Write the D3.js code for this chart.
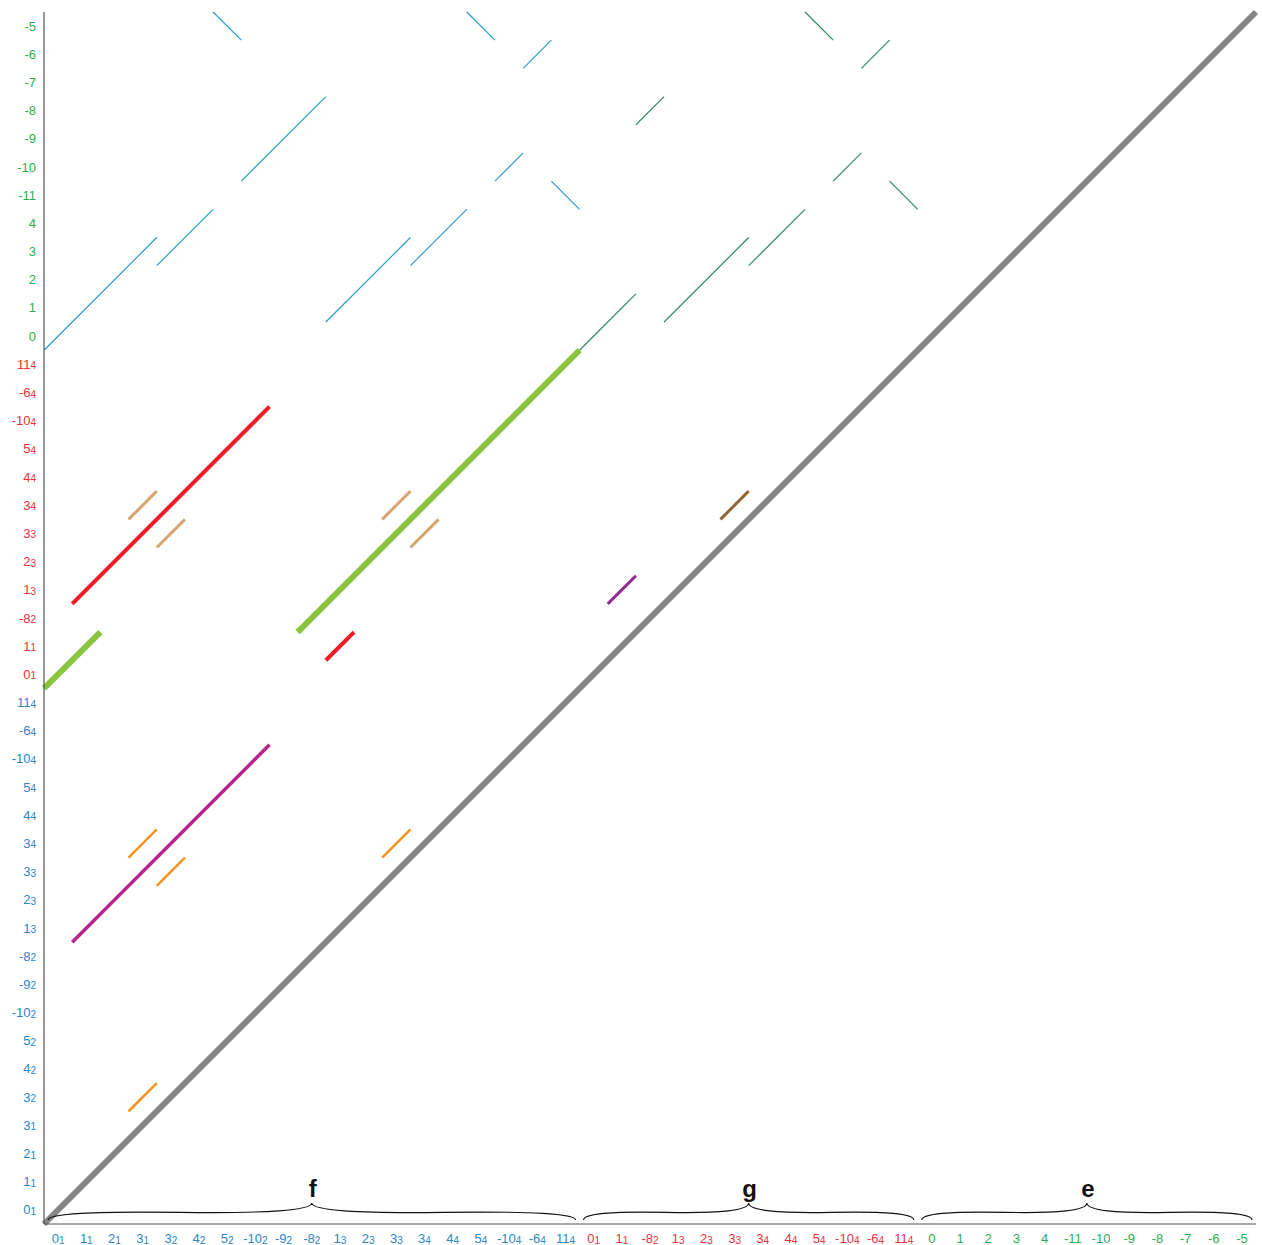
<!DOCTYPE html>
<html><head><meta charset="utf-8">
<script src="https://cdn.jsdelivr.net/npm/d3@7"></script>
<style>
body{margin:0;background:#fff;}
svg{display:block;}
text{font-family:"Liberation Sans",Arial,Helvetica,sans-serif;}
</style></head>
<body>
<svg id="chart" width="1262" height="1245"></svg>
<script>
// ---- DATA ----
// tick labels: [main, subscript]
const fLabels = [["0","1"],["1","1"],["2","1"],["3","1"],["3","2"],["4","2"],["5","2"],["-10","2"],["-9","2"],["-8","2"],["1","3"],["2","3"],["3","3"],["3","4"],["4","4"],["5","4"],["-10","4"],["-6","4"],["11","4"]];
const gLabels = [["0","1"],["1","1"],["-8","2"],["1","3"],["2","3"],["3","3"],["3","4"],["4","4"],["5","4"],["-10","4"],["-6","4"],["11","4"]];
const eLabels = [["0",""],["1",""],["2",""],["3",""],["4",""],["-11",""],["-10",""],["-9",""],["-8",""],["-7",""],["-6",""],["-5",""]];
const groups = ["f","g","e"];
const groupColors = ["#2b86c5","#ee2e3a","#1fb14f"];

// matches: start x index, start y index, length (cells), dir (1 = forward, -1 = reverse)
const diagMatches   = [[0,0,43,1]];
const greenMatches  = [[0,19,2,1],[9,21,10,1]];
const redMatches    = [[1,22,7,1],[10,20,1,1]];
const magentaMatches= [[1,10,7,1]];
const orangeMatches = [[3,4,1,1],[3,13,1,1],[4,12,1,1],[12,13,1,1]];
const tanMatches    = [[3,25,1,1],[4,24,1,1],[12,25,1,1],[13,24,1,1]];
const purpleMatches = [[20,22,1,1]];
const brownMatches  = [[24,25,1,1]];
const blueThin      = [[0,31,4,1],[4,34,2,1],[7,37,3,1],[6,43,1,-1],[10,32,3,1],[13,34,2,1],[16,37,1,1],[17,41,1,1],[15,43,1,-1],[18,37,1,-1]];
const tealThin      = [[19,31,2,1],[21,39,1,1],[22,32,3,1],[25,34,2,1],[28,37,1,1],[29,41,1,1],[27,43,1,-1],[30,37,1,-1]];

// ---- CHART ----
const allLabels = [];
[fLabels,gLabels,eLabels].forEach((arr,gi)=>arr.forEach(l=>allLabels.push({m:l[0],s:l[1],g:gi})));
const N = allLabels.length;
const svg = d3.select("#chart");
const x = d3.scaleLinear().domain([0,N]).range([44,1256]);
const y = d3.scaleLinear().domain([0,N]).range([1224,12]);

function drawSet(data,color,width){
  svg.append("g").selectAll("line").data(data).join("line")
    .attr("x1",d=>x(d[0])).attr("y1",d=>y(d[1]))
    .attr("x2",d=>x(d[0]+d[2])).attr("y2",d=>y(d[1]+d[3]*d[2]))
    .attr("stroke",color).attr("stroke-width",width).attr("stroke-linecap","butt");
}
drawSet(blueThin,"#2a9ccc",1.2);
drawSet(tealThin,"#2f8a62",1.2);
drawSet(diagMatches,"#858585",6);
drawSet(greenMatches,"#8cc43f",6);
drawSet(redMatches,"#ee1c25",4);
drawSet(magentaMatches,"#b7258f",3.5);
drawSet(orangeMatches,"#f7941d",2.5);
drawSet(tanMatches,"#d8a471",3);
drawSet(purpleMatches,"#8e2a92",3);
drawSet(brownMatches,"#956536",3);

// axes lines
svg.append("line").attr("x1",x(0)).attr("x2",x(0)).attr("y1",y(N)).attr("y2",y(0)).attr("stroke","#555").attr("stroke-width",1.2);
svg.append("line").attr("x1",x(0)).attr("x2",x(N)).attr("y1",y(0)).attr("y2",y(0)).attr("stroke","#555").attr("stroke-width",1.2);

function addLabel(sel,d){
  sel.append("tspan").text(d.m);
  if(d.s) sel.append("tspan").attr("font-size",10).attr("dy",0.5).text(d.s);
}
// x tick labels
allLabels.forEach((d,i)=>{
  const t = svg.append("text").attr("x",x(i+0.5)).attr("y",y(0)+19)
    .attr("text-anchor","middle").attr("font-size",13).attr("fill",groupColors[d.g]);
  addLabel(t,d);
});
// y tick labels
allLabels.forEach((d,i)=>{
  const t = svg.append("text").attr("x",36).attr("y",y(i+0.5)+4.5)
    .attr("text-anchor","end").attr("font-size",13).attr("fill",groupColors[d.g]);
  addLabel(t,d);
});

// braces
function brace(x1,y1,x2,y2,w,q){
  let dx=x1-x2, dy=y1-y2; const len=Math.sqrt(dx*dx+dy*dy); dx/=len; dy/=len;
  const qx1=x1+q*w*dy, qy1=y1-q*w*dx;
  const qx2=(x1-.25*len*dx)+(1-q)*w*dy, qy2=(y1-.25*len*dy)-(1-q)*w*dx;
  const tx1=(x1-.5*len*dx)+w*dy, ty1=(y1-.5*len*dy)-w*dx;
  const qx3=x2+q*w*dy, qy3=y2-q*w*dx;
  const qx4=(x1-.75*len*dx)+(1-q)*w*dy, qy4=(y1-.75*len*dy)-(1-q)*w*dx;
  return `M${x1} ${y1} Q${qx1} ${qy1} ${qx2} ${qy2} T${tx1} ${ty1} M${x2} ${y2} Q${qx3} ${qy3} ${qx4} ${qy4} T${tx1} ${ty1}`;
}
let start=0;
[fLabels,gLabels,eLabels].forEach((arr,gi)=>{
  const a=x(start)+4, b=x(start+arr.length)-4;
  svg.append("path").attr("d",brace(b,1220,a,1220,17,0.55)).attr("fill","none").attr("stroke","#111").attr("stroke-width",1.1);
  svg.append("text").attr("x",(a+b)/2+1).attr("y",1197).attr("text-anchor","middle")
    .attr("font-size",24).attr("font-weight","bold").attr("fill","#111").text(groups[gi]);
  start+=arr.length;
});
</script>
</body></html>
